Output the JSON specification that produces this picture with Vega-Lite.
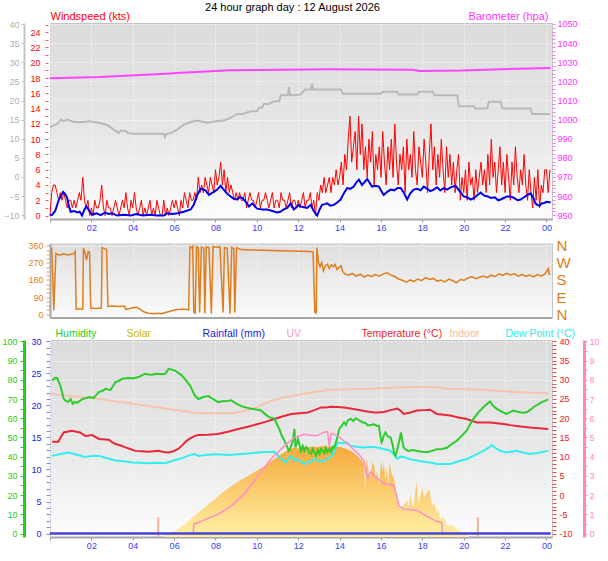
{
  "$schema": "https://vega.github.io/schema/vega-lite/v6.json",
  "background": "#ffffff",
  "padding": {"left": 1, "top": 1, "right": 2, "bottom": 2},
  "title": {"text": "24 hour graph day : 12 August 2026", "font": "Liberation Sans", "fontSize": 11, "fontWeight": "normal", "color": "#000000", "anchor": "middle", "offset": -3, "dx": -8},
  "config": {"font": "Liberation Sans", "axis": {"labelFont": "Liberation Sans", "titleFont": "Liberation Sans", "labelFontSize": 9}, "view": {"stroke": "#c4c4c4"}},
  "spacing": 4.5,
  "resolve": {"scale": {"color": "independent"}, "legend": {"color": "independent"}},
  "datasets": {
    "aux": [{"minute":0,"aux":13.0},{"minute":6,"aux":13.3},{"minute":21,"aux":13.9},{"minute":32,"aux":15.0},{"minute":40,"aux":14.6},{"minute":50,"aux":15.0},{"minute":69,"aux":14.4},{"minute":98,"aux":14.4},{"minute":113,"aux":14.6},{"minute":127,"aux":14.4},{"minute":150,"aux":14.0},{"minute":166,"aux":13.6},{"minute":185,"aux":12.4},{"minute":200,"aux":11.5},{"minute":205,"aux":12.1},{"minute":219,"aux":12.1},{"minute":225,"aux":11.5},{"minute":243,"aux":11.3},{"minute":330,"aux":11.3},{"minute":333,"aux":10.4},{"minute":337,"aux":11.3},{"minute":350,"aux":11.5},{"minute":369,"aux":12.4},{"minute":388,"aux":13.7},{"minute":408,"aux":14.4},{"minute":427,"aux":14.8},{"minute":456,"aux":14.2},{"minute":480,"aux":14.6},{"minute":504,"aux":14.8},{"minute":524,"aux":15.5},{"minute":543,"aux":16.5},{"minute":560,"aux":16.5},{"minute":582,"aux":17.2},{"minute":600,"aux":17.2},{"minute":606,"aux":18.1},{"minute":615,"aux":18.1},{"minute":620,"aux":19.1},{"minute":635,"aux":19.1},{"minute":649,"aux":19.8},{"minute":665,"aux":19.8},{"minute":669,"aux":21.4},{"minute":690,"aux":21.4},{"minute":693,"aux":23.5},{"minute":696,"aux":21.4},{"minute":727,"aux":21.6},{"minute":740,"aux":22.9},{"minute":757,"aux":22.9},{"minute":760,"aux":24.4},{"minute":763,"aux":22.9},{"minute":843,"aux":22.9},{"minute":850,"aux":21.8},{"minute":959,"aux":21.8},{"minute":965,"aux":22.3},{"minute":1007,"aux":22.3},{"minute":1012,"aux":21.6},{"minute":1065,"aux":21.6},{"minute":1070,"aux":22.3},{"minute":1110,"aux":22.3},{"minute":1115,"aux":21.4},{"minute":1181,"aux":21.4},{"minute":1186,"aux":18.5},{"minute":1229,"aux":18.5},{"minute":1234,"aux":17.9},{"minute":1268,"aux":17.9},{"minute":1273,"aux":19.7},{"minute":1307,"aux":19.7},{"minute":1312,"aux":17.9},{"minute":1394,"aux":17.9},{"minute":1399,"aux":16.5},{"minute":1450,"aux":16.5}],
    "pressure": [{"minute":0,"baro":1021.6},{"minute":144,"baro":1022.2},{"minute":234,"baro":1023.1},{"minute":336,"baro":1024.0},{"minute":378,"baro":1024.5},{"minute":438,"baro":1025.0},{"minute":522,"baro":1025.8},{"minute":666,"baro":1026.0},{"minute":810,"baro":1026.3},{"minute":1050,"baro":1026.0},{"minute":1074,"baro":1025.4},{"minute":1194,"baro":1025.6},{"minute":1308,"baro":1026.3},{"minute":1452,"baro":1027.0}],
    "speed": [{"minute":0,"speed":0},{"minute":6,"speed":0.1},{"minute":15,"speed":0.6},{"minute":25,"speed":2.0},{"minute":38,"speed":3.1},{"minute":44,"speed":2.8},{"minute":50,"speed":2.3},{"minute":55,"speed":1.2},{"minute":60,"speed":0.5},{"minute":70,"speed":0.6},{"minute":79,"speed":0.4},{"minute":86,"speed":0.5},{"minute":93,"speed":0.0},{"minute":100,"speed":0.8},{"minute":106,"speed":1.2},{"minute":114,"speed":0.6},{"minute":122,"speed":0.1},{"minute":135,"speed":0.3},{"minute":147,"speed":0.05},{"minute":160,"speed":0.4},{"minute":170,"speed":0.2},{"minute":180,"speed":0.3},{"minute":195,"speed":0},{"minute":215,"speed":0.1},{"minute":235,"speed":0},{"minute":250,"speed":0.2},{"minute":270,"speed":0},{"minute":290,"speed":0.1},{"minute":310,"speed":0},{"minute":330,"speed":0},{"minute":340,"speed":0.3},{"minute":355,"speed":0.2},{"minute":370,"speed":0.3},{"minute":388,"speed":0.5},{"minute":408,"speed":0.8},{"minute":417,"speed":1.4},{"minute":427,"speed":2.7},{"minute":437,"speed":3.5},{"minute":444,"speed":3.4},{"minute":451,"speed":3.3},{"minute":461,"speed":2.7},{"minute":468,"speed":2.9},{"minute":475,"speed":3.1},{"minute":485,"speed":3.4},{"minute":495,"speed":3.9},{"minute":502,"speed":3.5},{"minute":509,"speed":3.1},{"minute":516,"speed":2.8},{"minute":524,"speed":2.5},{"minute":533,"speed":2.2},{"minute":543,"speed":2.1},{"minute":550,"speed":2.4},{"minute":558,"speed":2.3},{"minute":568,"speed":1.8},{"minute":577,"speed":1.2},{"minute":587,"speed":1.6},{"minute":594,"speed":1.2},{"minute":601,"speed":0.9},{"minute":615,"speed":0.8},{"minute":630,"speed":0.8},{"minute":645,"speed":0.6},{"minute":659,"speed":0.4},{"minute":668,"speed":0.5},{"minute":678,"speed":0.8},{"minute":688,"speed":1.0},{"minute":698,"speed":1.6},{"minute":703,"speed":1.2},{"minute":707,"speed":0.8},{"minute":715,"speed":1.1},{"minute":722,"speed":1.4},{"minute":727,"speed":1.2},{"minute":736,"speed":1.1},{"minute":746,"speed":1.0},{"minute":756,"speed":1.4},{"minute":765,"speed":0.6},{"minute":775,"speed":0},{"minute":782,"speed":0.8},{"minute":789,"speed":1.4},{"minute":797,"speed":1.5},{"minute":804,"speed":1.6},{"minute":813,"speed":1.3},{"minute":823,"speed":1.4},{"minute":833,"speed":1.7},{"minute":843,"speed":2.1},{"minute":852,"speed":2.9},{"minute":862,"speed":3.6},{"minute":871,"speed":3.5},{"minute":881,"speed":3.8},{"minute":888,"speed":4.3},{"minute":896,"speed":4.7},{"minute":905,"speed":4.0},{"minute":913,"speed":4.4},{"minute":920,"speed":4.8},{"minute":927,"speed":4.3},{"minute":934,"speed":3.8},{"minute":944,"speed":3.9},{"minute":954,"speed":3.8},{"minute":961,"speed":3.2},{"minute":968,"speed":2.7},{"minute":978,"speed":3.1},{"minute":988,"speed":3.4},{"minute":998,"speed":3.3},{"minute":1008,"speed":3.6},{"minute":1017,"speed":3.6},{"minute":1026,"speed":3.0},{"minute":1036,"speed":2.1},{"minute":1045,"speed":2.9},{"minute":1055,"speed":3.4},{"minute":1065,"speed":3.5},{"minute":1075,"speed":3.3},{"minute":1084,"speed":3.8},{"minute":1094,"speed":3.5},{"minute":1103,"speed":3.2},{"minute":1113,"speed":3.4},{"minute":1123,"speed":3.7},{"minute":1132,"speed":3.3},{"minute":1142,"speed":3.6},{"minute":1152,"speed":3.4},{"minute":1162,"speed":3.7},{"minute":1176,"speed":3.9},{"minute":1188,"speed":3.2},{"minute":1200,"speed":2.5},{"minute":1210,"speed":2.4},{"minute":1220,"speed":2.1},{"minute":1230,"speed":2.3},{"minute":1240,"speed":2.7},{"minute":1249,"speed":3.0},{"minute":1260,"speed":2.6},{"minute":1270,"speed":2.5},{"minute":1278,"speed":2.3},{"minute":1290,"speed":2.4},{"minute":1300,"speed":2.0},{"minute":1307,"speed":2.1},{"minute":1316,"speed":2.3},{"minute":1326,"speed":2.5},{"minute":1336,"speed":2.5},{"minute":1346,"speed":2.3},{"minute":1356,"speed":2.0},{"minute":1365,"speed":2.1},{"minute":1375,"speed":2.4},{"minute":1385,"speed":2.7},{"minute":1394,"speed":2.9},{"minute":1402,"speed":2.3},{"minute":1408,"speed":1.6},{"minute":1413,"speed":1.4},{"minute":1420,"speed":1.3},{"minute":1426,"speed":1.6},{"minute":1432,"speed":1.6},{"minute":1440,"speed":1.8},{"minute":1452,"speed":1.7}],
    "gust": [{"minute":0,"gust":0},{"minute":5,"gust":3},{"minute":10,"gust":4},{"minute":15,"gust":4},{"minute":20,"gust":3},{"minute":25,"gust":2},{"minute":30,"gust":3},{"minute":35,"gust":2},{"minute":40,"gust":3},{"minute":45,"gust":2},{"minute":50,"gust":1},{"minute":55,"gust":2},
      {"minute":60,"gust":2},{"minute":65,"gust":1},{"minute":70,"gust":2},{"minute":75,"gust":1},{"minute":80,"gust":2},{"minute":85,"gust":3},{"minute":90,"gust":2},{"minute":95,"gust":5},{"minute":100,"gust":2},{"minute":105,"gust":1},{"minute":110,"gust":2},{"minute":115,"gust":0},
      {"minute":120,"gust":1},{"minute":125,"gust":0},{"minute":130,"gust":2},{"minute":135,"gust":1},{"minute":140,"gust":1},{"minute":145,"gust":2},{"minute":150,"gust":4},{"minute":155,"gust":1},{"minute":160,"gust":0},{"minute":165,"gust":2},{"minute":170,"gust":1},{"minute":175,"gust":1},
      {"minute":180,"gust":0},{"minute":185,"gust":1},{"minute":190,"gust":2},{"minute":195,"gust":1},{"minute":200,"gust":0},{"minute":205,"gust":1},{"minute":210,"gust":2},{"minute":215,"gust":1},{"minute":220,"gust":3},{"minute":225,"gust":1},{"minute":230,"gust":0},{"minute":235,"gust":2},
      {"minute":240,"gust":1},{"minute":245,"gust":3},{"minute":250,"gust":1},{"minute":255,"gust":0},{"minute":260,"gust":1},{"minute":265,"gust":2},{"minute":270,"gust":0},{"minute":275,"gust":1},{"minute":280,"gust":0},{"minute":285,"gust":1},{"minute":290,"gust":2},{"minute":295,"gust":0},
      {"minute":300,"gust":1},{"minute":305,"gust":0},{"minute":310,"gust":2},{"minute":315,"gust":1},{"minute":320,"gust":0},{"minute":325,"gust":0},{"minute":330,"gust":2},{"minute":335,"gust":0},{"minute":340,"gust":1},{"minute":345,"gust":0},{"minute":350,"gust":1},{"minute":355,"gust":2},
      {"minute":360,"gust":1},{"minute":365,"gust":2},{"minute":370,"gust":1},{"minute":375,"gust":0},{"minute":380,"gust":2},{"minute":385,"gust":1},{"minute":390,"gust":3},{"minute":395,"gust":2},{"minute":400,"gust":1},{"minute":405,"gust":3},{"minute":410,"gust":2},{"minute":415,"gust":2},
      {"minute":420,"gust":3},{"minute":425,"gust":2},{"minute":430,"gust":5},{"minute":435,"gust":3},{"minute":440,"gust":4},{"minute":445,"gust":3},{"minute":450,"gust":5},{"minute":455,"gust":4},{"minute":460,"gust":3},{"minute":465,"gust":5},{"minute":470,"gust":4},{"minute":475,"gust":3},
      {"minute":480,"gust":6},{"minute":485,"gust":4},{"minute":490,"gust":5},{"minute":495,"gust":7},{"minute":500,"gust":4},{"minute":505,"gust":6},{"minute":510,"gust":3},{"minute":515,"gust":5},{"minute":520,"gust":3},{"minute":525,"gust":4},{"minute":530,"gust":3},{"minute":535,"gust":2},
      {"minute":540,"gust":3},{"minute":545,"gust":2},{"minute":550,"gust":3},{"minute":555,"gust":2},{"minute":560,"gust":2},{"minute":565,"gust":3},{"minute":570,"gust":1},{"minute":575,"gust":2},{"minute":580,"gust":3},{"minute":585,"gust":2},{"minute":590,"gust":2},{"minute":595,"gust":1},
      {"minute":600,"gust":2},{"minute":605,"gust":3},{"minute":610,"gust":1},{"minute":615,"gust":2},{"minute":620,"gust":2},{"minute":625,"gust":3},{"minute":630,"gust":2},{"minute":635,"gust":1},{"minute":640,"gust":2},{"minute":645,"gust":3},{"minute":650,"gust":1},{"minute":655,"gust":2},
      {"minute":660,"gust":2},{"minute":665,"gust":1},{"minute":670,"gust":3},{"minute":675,"gust":2},{"minute":680,"gust":2},{"minute":685,"gust":1},{"minute":690,"gust":2},{"minute":695,"gust":3},{"minute":700,"gust":1},{"minute":705,"gust":2},{"minute":710,"gust":2},{"minute":715,"gust":1},
      {"minute":720,"gust":2},{"minute":725,"gust":1},{"minute":730,"gust":2},{"minute":735,"gust":3},{"minute":740,"gust":1},{"minute":745,"gust":2},{"minute":750,"gust":2},{"minute":755,"gust":3},{"minute":760,"gust":1},{"minute":765,"gust":2},{"minute":770,"gust":0},{"minute":775,"gust":3},
      {"minute":780,"gust":2},{"minute":785,"gust":4},{"minute":790,"gust":3},{"minute":795,"gust":5},{"minute":800,"gust":3},{"minute":805,"gust":4},{"minute":810,"gust":5},{"minute":815,"gust":3},{"minute":820,"gust":5},{"minute":825,"gust":4},{"minute":830,"gust":6},{"minute":835,"gust":4},
      {"minute":840,"gust":5},{"minute":845,"gust":7},{"minute":850,"gust":4},{"minute":855,"gust":8},{"minute":860,"gust":6},{"minute":865,"gust":10},{"minute":870,"gust":13},{"minute":875,"gust":7},{"minute":880,"gust":9},{"minute":885,"gust":11},{"minute":890,"gust":6},{"minute":895,"gust":13},
      {"minute":900,"gust":8},{"minute":905,"gust":12},{"minute":910,"gust":6},{"minute":915,"gust":9},{"minute":920,"gust":5},{"minute":925,"gust":10},{"minute":930,"gust":7},{"minute":935,"gust":11},{"minute":940,"gust":4},{"minute":945,"gust":8},{"minute":950,"gust":6},{"minute":955,"gust":9},
      {"minute":960,"gust":5},{"minute":965,"gust":11},{"minute":970,"gust":7},{"minute":975,"gust":4},{"minute":980,"gust":9},{"minute":985,"gust":6},{"minute":990,"gust":10},{"minute":995,"gust":5},{"minute":1000,"gust":12},{"minute":1005,"gust":7},{"minute":1010,"gust":4},{"minute":1015,"gust":8},
      {"minute":1020,"gust":6},{"minute":1025,"gust":9},{"minute":1030,"gust":3},{"minute":1035,"gust":10},{"minute":1040,"gust":6},{"minute":1045,"gust":8},{"minute":1050,"gust":5},{"minute":1055,"gust":11},{"minute":1060,"gust":6},{"minute":1065,"gust":4},{"minute":1070,"gust":9},{"minute":1075,"gust":7},
      {"minute":1080,"gust":5},{"minute":1085,"gust":10},{"minute":1090,"gust":7},{"minute":1095,"gust":3},{"minute":1100,"gust":8},{"minute":1105,"gust":12},{"minute":1110,"gust":6},{"minute":1115,"gust":9},{"minute":1120,"gust":4},{"minute":1125,"gust":8},{"minute":1130,"gust":5},{"minute":1135,"gust":10},
      {"minute":1140,"gust":6},{"minute":1145,"gust":3},{"minute":1150,"gust":9},{"minute":1155,"gust":5},{"minute":1160,"gust":8},{"minute":1165,"gust":4},{"minute":1170,"gust":7},{"minute":1175,"gust":3},{"minute":1180,"gust":6},{"minute":1185,"gust":8},{"minute":1190,"gust":2},{"minute":1195,"gust":5},
      {"minute":1200,"gust":3},{"minute":1205,"gust":6},{"minute":1210,"gust":2},{"minute":1215,"gust":7},{"minute":1220,"gust":4},{"minute":1225,"gust":5},{"minute":1230,"gust":2},{"minute":1235,"gust":6},{"minute":1240,"gust":3},{"minute":1245,"gust":5},{"minute":1250,"gust":7},{"minute":1255,"gust":4},
      {"minute":1260,"gust":6},{"minute":1265,"gust":3},{"minute":1270,"gust":8},{"minute":1275,"gust":4},{"minute":1280,"gust":10},{"minute":1285,"gust":5},{"minute":1290,"gust":7},{"minute":1295,"gust":3},{"minute":1300,"gust":6},{"minute":1305,"gust":9},{"minute":1310,"gust":4},{"minute":1315,"gust":7},
      {"minute":1320,"gust":3},{"minute":1325,"gust":8},{"minute":1330,"gust":5},{"minute":1335,"gust":2},{"minute":1340,"gust":7},{"minute":1345,"gust":4},{"minute":1350,"gust":9},{"minute":1355,"gust":5},{"minute":1360,"gust":3},{"minute":1365,"gust":6},{"minute":1370,"gust":4},{"minute":1375,"gust":8},
      {"minute":1380,"gust":4},{"minute":1385,"gust":2},{"minute":1390,"gust":6},{"minute":1395,"gust":3},{"minute":1400,"gust":1},{"minute":1405,"gust":5},{"minute":1410,"gust":2},{"minute":1415,"gust":6},{"minute":1420,"gust":1},{"minute":1425,"gust":4},{"minute":1430,"gust":3},{"minute":1435,"gust":6},
      {"minute":1440,"gust":6},{"minute":1445,"gust":3},{"minute":1450,"gust":6}],
    "direction": [{"minute":5,"dir":350},{"minute":11,"dir":20},{"minute":17,"dir":320},{"minute":28,"dir":310},{"minute":39,"dir":318},{"minute":50,"dir":312},{"minute":61,"dir":315},{"minute":70,"dir":320},{"minute":73,"dir":330},{"minute":76,"dir":26},{"minute":84,"dir":28},{"minute":95,"dir":26},{"minute":97,"dir":348},{"minute":102,"dir":320},{"minute":106,"dir":285},{"minute":111,"dir":330},{"minute":115,"dir":325},{"minute":118,"dir":32},{"minute":134,"dir":30},{"minute":149,"dir":32},{"minute":151,"dir":350},{"minute":158,"dir":345},{"minute":164,"dir":340},{"minute":168,"dir":40},{"minute":184,"dir":42},{"minute":201,"dir":40},{"minute":216,"dir":42},{"minute":220,"dir":25},{"minute":229,"dir":28},{"minute":240,"dir":34},{"minute":251,"dir":36},{"minute":260,"dir":28},{"minute":272,"dir":12},{"minute":285,"dir":5},{"minute":302,"dir":2},{"minute":313,"dir":5},{"minute":324,"dir":2},{"minute":335,"dir":8},{"minute":346,"dir":14},{"minute":358,"dir":20},{"minute":369,"dir":24},{"minute":380,"dir":26},{"minute":391,"dir":25},{"minute":402,"dir":22},{"minute":406,"dir":355},{"minute":410,"dir":350},{"minute":414,"dir":358},{"minute":417,"dir":10},{"minute":421,"dir":5},{"minute":425,"dir":355},{"minute":430,"dir":350},{"minute":434,"dir":8},{"minute":439,"dir":352},{"minute":446,"dir":348},{"minute":449,"dir":5},{"minute":453,"dir":355},{"minute":461,"dir":350},{"minute":468,"dir":3},{"minute":473,"dir":355},{"minute":482,"dir":352},{"minute":493,"dir":355},{"minute":502,"dir":8},{"minute":506,"dir":350},{"minute":514,"dir":348},{"minute":522,"dir":2},{"minute":527,"dir":352},{"minute":533,"dir":345},{"minute":536,"dir":8},{"minute":541,"dir":350},{"minute":553,"dir":340},{"minute":587,"dir":338},{"minute":643,"dir":335},{"minute":698,"dir":333},{"minute":754,"dir":330},{"minute":763,"dir":328},{"minute":768,"dir":10},{"minute":772,"dir":5},{"minute":774,"dir":350},{"minute":779,"dir":270},{"minute":783,"dir":250},{"minute":788,"dir":272},{"minute":793,"dir":228},{"minute":799,"dir":255},{"minute":805,"dir":263},{"minute":810,"dir":240},{"minute":816,"dir":260},{"minute":821,"dir":250},{"minute":827,"dir":262},{"minute":832,"dir":235},{"minute":838,"dir":245},{"minute":844,"dir":255},{"minute":849,"dir":225},{"minute":855,"dir":212},{"minute":866,"dir":205},{"minute":877,"dir":215},{"minute":888,"dir":200},{"minute":900,"dir":210},{"minute":911,"dir":195},{"minute":922,"dir":205},{"minute":933,"dir":198},{"minute":944,"dir":208},{"minute":955,"dir":200},{"minute":967,"dir":212},{"minute":978,"dir":218},{"minute":989,"dir":205},{"minute":1000,"dir":198},{"minute":1011,"dir":185},{"minute":1022,"dir":178},{"minute":1034,"dir":168},{"minute":1045,"dir":180},{"minute":1056,"dir":172},{"minute":1067,"dir":185},{"minute":1078,"dir":176},{"minute":1089,"dir":192},{"minute":1101,"dir":182},{"minute":1112,"dir":188},{"minute":1123,"dir":174},{"minute":1134,"dir":180},{"minute":1145,"dir":170},{"minute":1157,"dir":184},{"minute":1168,"dir":176},{"minute":1179,"dir":165},{"minute":1190,"dir":182},{"minute":1201,"dir":178},{"minute":1212,"dir":190},{"minute":1224,"dir":196},{"minute":1235,"dir":186},{"minute":1246,"dir":194},{"minute":1257,"dir":200},{"minute":1268,"dir":192},{"minute":1279,"dir":205},{"minute":1291,"dir":198},{"minute":1302,"dir":212},{"minute":1313,"dir":204},{"minute":1324,"dir":215},{"minute":1335,"dir":206},{"minute":1347,"dir":212},{"minute":1358,"dir":200},{"minute":1369,"dir":210},{"minute":1380,"dir":198},{"minute":1391,"dir":206},{"minute":1403,"dir":196},{"minute":1414,"dir":208},{"minute":1425,"dir":200},{"minute":1436,"dir":212},{"minute":1445,"dir":240},{"minute":1449,"dir":205}],
    "humidity": [{"minute":6,"hum":79.6},{"minute":15,"hum":81},{"minute":21,"hum":80.9},{"minute":30,"hum":77},{"minute":40,"hum":70},{"minute":46,"hum":69},{"minute":52,"hum":68.5},{"minute":60,"hum":70},{"minute":66,"hum":67.5},{"minute":72,"hum":68.5},{"minute":78,"hum":68},{"minute":93,"hum":69.8},{"minute":104,"hum":70.5},{"minute":114,"hum":71},{"minute":126,"hum":70.5},{"minute":134,"hum":72},{"minute":141,"hum":73.6},{"minute":150,"hum":74},{"minute":161,"hum":75.3},{"minute":168,"hum":75},{"minute":175,"hum":74.6},{"minute":182,"hum":76.5},{"minute":190,"hum":78.8},{"minute":200,"hum":79.5},{"minute":210,"hum":80.5},{"minute":228,"hum":80.9},{"minute":243,"hum":80.8},{"minute":257,"hum":81.4},{"minute":266,"hum":82.3},{"minute":276,"hum":83.1},{"minute":285,"hum":82.8},{"minute":295,"hum":82.6},{"minute":305,"hum":83},{"minute":314,"hum":83.1},{"minute":324,"hum":82.9},{"minute":334,"hum":83.1},{"minute":340,"hum":84.5},{"minute":344,"hum":85.7},{"minute":354,"hum":85.3},{"minute":363,"hum":84.8},{"minute":372,"hum":83.6},{"minute":382,"hum":82.3},{"minute":394,"hum":79.8},{"minute":406,"hum":77},{"minute":413,"hum":74.5},{"minute":420,"hum":71.8},{"minute":430,"hum":70},{"minute":445,"hum":71},{"minute":459,"hum":71.5},{"minute":473,"hum":70},{"minute":487,"hum":68.4},{"minute":500,"hum":68.8},{"minute":513,"hum":69},{"minute":526,"hum":69.3},{"minute":540,"hum":67.6},{"minute":555,"hum":66.3},{"minute":570,"hum":65.5},{"minute":584,"hum":64.9},{"minute":598,"hum":64.6},{"minute":612,"hum":64},{"minute":625,"hum":62},{"minute":636,"hum":60.5},{"minute":645,"hum":60.2},{"minute":651,"hum":59.7},{"minute":658,"hum":57},{"minute":665,"hum":54.4},{"minute":672,"hum":51},{"minute":680,"hum":48.3},{"minute":686,"hum":46},{"minute":692,"hum":43.1},{"minute":696,"hum":44},{"minute":700,"hum":46},{"minute":704,"hum":48},{"minute":709,"hum":54.4},{"minute":712,"hum":45},{"minute":716,"hum":47},{"minute":719,"hum":49.2},{"minute":724,"hum":46},{"minute":728,"hum":43},{"minute":733,"hum":45.5},{"minute":738,"hum":43},{"minute":743,"hum":45},{"minute":748,"hum":43.9},{"minute":752,"hum":42},{"minute":757,"hum":41.4},{"minute":762,"hum":44},{"minute":767,"hum":42},{"minute":772,"hum":40.5},{"minute":777,"hum":43.5},{"minute":782,"hum":41.5},{"minute":786,"hum":44},{"minute":791,"hum":43},{"minute":796,"hum":41.8},{"minute":800,"hum":44.5},{"minute":805,"hum":42.3},{"minute":810,"hum":44},{"minute":815,"hum":42.5},{"minute":820,"hum":45},{"minute":824,"hum":44.6},{"minute":828,"hum":47},{"minute":832,"hum":49},{"minute":836,"hum":52},{"minute":839,"hum":54.4},{"minute":846,"hum":56},{"minute":853,"hum":57.9},{"minute":858,"hum":56.5},{"minute":864,"hum":59},{"minute":872,"hum":59.7},{"minute":880,"hum":58.5},{"minute":887,"hum":60},{"minute":896,"hum":59},{"minute":906,"hum":57.9},{"minute":915,"hum":57.5},{"minute":922,"hum":56.2},{"minute":930,"hum":56.5},{"minute":940,"hum":56.8},{"minute":948,"hum":56},{"minute":954,"hum":56.1},{"minute":958,"hum":51},{"minute":962,"hum":47.5},{"minute":964,"hum":48.3},{"minute":968,"hum":51},{"minute":973,"hum":52.6},{"minute":980,"hum":50.5},{"minute":988,"hum":50},{"minute":994,"hum":46},{"minute":998,"hum":42},{"minute":1002,"hum":40.5},{"minute":1006,"hum":43},{"minute":1012,"hum":47.5},{"minute":1015,"hum":50},{"minute":1018,"hum":52.6},{"minute":1022,"hum":48},{"minute":1026,"hum":44.6},{"minute":1033,"hum":43.5},{"minute":1040,"hum":43},{"minute":1052,"hum":43.4},{"minute":1065,"hum":43},{"minute":1080,"hum":42.6},{"minute":1094,"hum":42.3},{"minute":1108,"hum":43},{"minute":1122,"hum":43.9},{"minute":1137,"hum":44},{"minute":1151,"hum":44.6},{"minute":1165,"hum":46.5},{"minute":1180,"hum":48.3},{"minute":1195,"hum":51},{"minute":1209,"hum":53.6},{"minute":1219,"hum":57},{"minute":1228,"hum":59.7},{"minute":1236,"hum":61.5},{"minute":1243,"hum":63.1},{"minute":1252,"hum":64.8},{"minute":1262,"hum":66.6},{"minute":1270,"hum":67.8},{"minute":1276,"hum":68.7},{"minute":1281,"hum":67.5},{"minute":1286,"hum":66.3},{"minute":1295,"hum":65},{"minute":1305,"hum":64},{"minute":1314,"hum":63},{"minute":1324,"hum":62.3},{"minute":1333,"hum":63},{"minute":1343,"hum":64},{"minute":1353,"hum":63.5},{"minute":1363,"hum":63.1},{"minute":1372,"hum":62.8},{"minute":1382,"hum":63.1},{"minute":1392,"hum":64.2},{"minute":1402,"hum":65.7},{"minute":1414,"hum":67},{"minute":1426,"hum":68.4},{"minute":1436,"hum":69},{"minute":1445,"hum":69.8}],
    "temperature": [{"minute":6,"temp":13.9},{"minute":24,"temp":13.9},{"minute":32,"temp":15.2},{"minute":40,"temp":16.3},{"minute":63,"temp":16.7},{"minute":87,"temp":16.3},{"minute":102,"temp":15.4},{"minute":112,"temp":15.5},{"minute":122,"temp":15.6},{"minute":142,"temp":14.6},{"minute":171,"temp":14.4},{"minute":180,"temp":13.8},{"minute":190,"temp":13.3},{"minute":205,"temp":12.9},{"minute":219,"temp":12.4},{"minute":233,"temp":12.0},{"minute":247,"temp":11.5},{"minute":266,"temp":11.4},{"minute":286,"temp":11.3},{"minute":300,"temp":11.4},{"minute":314,"temp":11.5},{"minute":330,"temp":11.2},{"minute":344,"temp":11.1},{"minute":358,"temp":11.4},{"minute":372,"temp":12.0},{"minute":384,"temp":13.0},{"minute":396,"temp":14.1},{"minute":408,"temp":14.8},{"minute":420,"temp":15.4},{"minute":430,"temp":15.6},{"minute":458,"temp":15.7},{"minute":487,"temp":15.9},{"minute":516,"temp":16.5},{"minute":546,"temp":17.2},{"minute":574,"temp":17.8},{"minute":603,"temp":18.5},{"minute":627,"temp":19.1},{"minute":651,"temp":19.8},{"minute":676,"temp":20.5},{"minute":700,"temp":21.1},{"minute":724,"temp":21.3},{"minute":748,"temp":21.5},{"minute":767,"temp":22.1},{"minute":786,"temp":22.8},{"minute":800,"temp":22.8},{"minute":815,"temp":23},{"minute":834,"temp":22.9},{"minute":853,"temp":22.8},{"minute":872,"temp":22.5},{"minute":892,"temp":22.2},{"minute":916,"temp":21.8},{"minute":940,"temp":21.5},{"minute":954,"temp":21.5},{"minute":968,"temp":21.6},{"minute":988,"temp":22.1},{"minute":1007,"temp":22.5},{"minute":1016,"temp":22.0},{"minute":1026,"temp":21.1},{"minute":1045,"temp":21.5},{"minute":1064,"temp":22},{"minute":1084,"temp":22.1},{"minute":1103,"temp":22.2},{"minute":1113,"temp":21.6},{"minute":1122,"temp":21.1},{"minute":1142,"temp":20.9},{"minute":1161,"temp":20.7},{"minute":1185,"temp":20.2},{"minute":1209,"temp":19.8},{"minute":1224,"temp":19.3},{"minute":1238,"temp":18.9},{"minute":1257,"temp":18.9},{"minute":1276,"temp":18.9},{"minute":1295,"temp":18.7},{"minute":1315,"temp":18.5},{"minute":1334,"temp":18.2},{"minute":1353,"temp":18.0},{"minute":1372,"temp":17.8},{"minute":1392,"temp":17.6},{"minute":1418,"temp":17.4},{"minute":1445,"temp":17.2}],
    "indoor": [{"minute":6,"indoor":26.3},{"minute":142,"indoor":25.0},{"minute":286,"indoor":23.2},{"minute":430,"indoor":21.3},{"minute":526,"indoor":21.3},{"minute":555,"indoor":21.7},{"minute":584,"indoor":22.4},{"minute":613,"indoor":23.4},{"minute":642,"indoor":24.5},{"minute":670,"indoor":25.2},{"minute":700,"indoor":25.8},{"minute":757,"indoor":26.7},{"minute":815,"indoor":27.4},{"minute":863,"indoor":27.5},{"minute":911,"indoor":27.6},{"minute":959,"indoor":27.8},{"minute":1007,"indoor":28.0},{"minute":1060,"indoor":28.1},{"minute":1112,"indoor":28.1},{"minute":1161,"indoor":27.6},{"minute":1209,"indoor":27.5},{"minute":1257,"indoor":27.4},{"minute":1305,"indoor":27.1},{"minute":1353,"indoor":26.8},{"minute":1400,"indoor":26.6},{"minute":1445,"indoor":26.5}],
    "dewpoint": [{"minute":6,"dew":10.2},{"minute":30,"dew":10.7},{"minute":54,"dew":11.1},{"minute":78,"dew":10.5},{"minute":102,"dew":9.9},{"minute":122,"dew":10.2},{"minute":142,"dew":10.2},{"minute":166,"dew":9.6},{"minute":190,"dew":9.0},{"minute":214,"dew":8.8},{"minute":238,"dew":8.5},{"minute":262,"dew":8.4},{"minute":286,"dew":8.3},{"minute":310,"dew":8.4},{"minute":334,"dew":8.3},{"minute":358,"dew":9.0},{"minute":374,"dew":9.4},{"minute":390,"dew":9.8},{"minute":405,"dew":10.4},{"minute":420,"dew":10.7},{"minute":430,"dew":10.2},{"minute":458,"dew":10.5},{"minute":487,"dew":10.6},{"minute":516,"dew":10.4},{"minute":546,"dew":10.6},{"minute":575,"dew":10.8},{"minute":603,"dew":11.1},{"minute":627,"dew":11.2},{"minute":651,"dew":11.3},{"minute":660,"dew":10.5},{"minute":668,"dew":9.5},{"minute":676,"dew":9.0},{"minute":684,"dew":8.5},{"minute":692,"dew":9.6},{"minute":700,"dew":10.2},{"minute":710,"dew":9.0},{"minute":719,"dew":9.4},{"minute":728,"dew":8.6},{"minute":738,"dew":8.1},{"minute":748,"dew":8.8},{"minute":757,"dew":8.5},{"minute":766,"dew":9.4},{"minute":776,"dew":9.0},{"minute":790,"dew":8.8},{"minute":805,"dew":9.4},{"minute":815,"dew":10.0},{"minute":824,"dew":11.1},{"minute":830,"dew":12.8},{"minute":834,"dew":13.7},{"minute":847,"dew":13.5},{"minute":860,"dew":13.7},{"minute":872,"dew":12.8},{"minute":891,"dew":12.6},{"minute":911,"dew":12.4},{"minute":930,"dew":12.6},{"minute":949,"dew":12.4},{"minute":968,"dew":12.0},{"minute":988,"dew":11.5},{"minute":998,"dew":10.5},{"minute":1007,"dew":9.4},{"minute":1016,"dew":10.0},{"minute":1026,"dew":9.9},{"minute":1045,"dew":9.3},{"minute":1064,"dew":9.0},{"minute":1084,"dew":8.7},{"minute":1103,"dew":8.5},{"minute":1122,"dew":8.1},{"minute":1142,"dew":8.1},{"minute":1161,"dew":8.1},{"minute":1185,"dew":8.8},{"minute":1209,"dew":9.4},{"minute":1233,"dew":10.4},{"minute":1257,"dew":11.5},{"minute":1270,"dew":12.2},{"minute":1281,"dew":13},{"minute":1290,"dew":12.4},{"minute":1296,"dew":12},{"minute":1310,"dew":11.4},{"minute":1324,"dew":11.1},{"minute":1338,"dew":11.3},{"minute":1353,"dew":11.5},{"minute":1372,"dew":11.1},{"minute":1392,"dew":10.7},{"minute":1418,"dew":11.0},{"minute":1445,"dew":11.5}],
    "uv": [{"minute":0,"uv":0},{"minute":415,"uv":0},{"minute":418,"uv":0.5},{"minute":430,"uv":0.57},{"minute":460,"uv":0.8},{"minute":487,"uv":1.0},{"minute":526,"uv":1.44},{"minute":565,"uv":2.1},{"minute":603,"uv":3.0},{"minute":642,"uv":3.9},{"minute":680,"uv":4.56},{"minute":709,"uv":5.0},{"minute":738,"uv":5.17},{"minute":760,"uv":5.1},{"minute":776,"uv":5.1},{"minute":790,"uv":5.25},{"minute":805,"uv":5.3},{"minute":810,"uv":4.56},{"minute":815,"uv":5.2},{"minute":824,"uv":5.17},{"minute":840,"uv":5.0},{"minute":853,"uv":4.8},{"minute":868,"uv":4.6},{"minute":882,"uv":4.35},{"minute":897,"uv":4.1},{"minute":911,"uv":3.78},{"minute":916,"uv":3.2},{"minute":922,"uv":2.9},{"minute":930,"uv":3.2},{"minute":940,"uv":3.0},{"minute":954,"uv":2.8},{"minute":968,"uv":2.6},{"minute":983,"uv":2.55},{"minute":997,"uv":2.5},{"minute":1005,"uv":2.0},{"minute":1012,"uv":1.44},{"minute":1026,"uv":1.27},{"minute":1045,"uv":1.25},{"minute":1065,"uv":1.2},{"minute":1084,"uv":1.0},{"minute":1103,"uv":0.8},{"minute":1120,"uv":0.65},{"minute":1136,"uv":0.57},{"minute":1138,"uv":0},{"minute":1452,"uv":0}],
    "solar": [{"minute":0,"solar":0},{"minute":330,"solar":0},{"minute":336,"solar":14},{"minute":363,"solar":30},{"minute":390,"solar":65},{"minute":430,"solar":124},{"minute":455,"solar":160},{"minute":478,"solar":192},{"minute":500,"solar":225},{"minute":526,"solar":259},{"minute":550,"solar":285},{"minute":574,"solar":310},{"minute":598,"solar":335},{"minute":622,"solar":361},{"minute":646,"solar":390},{"minute":670,"solar":420},{"minute":690,"solar":440},{"minute":709,"solar":455},{"minute":720,"solar":448},{"minute":730,"solar":458},{"minute":748,"solar":455},{"minute":760,"solar":460},{"minute":776,"solar":455},{"minute":790,"solar":462},{"minute":805,"solar":458},{"minute":815,"solar":463},{"minute":830,"solar":460},{"minute":844,"solar":455},{"minute":858,"solar":448},{"minute":872,"solar":438},{"minute":886,"solar":420},{"minute":901,"solar":395},{"minute":911,"solar":370},{"minute":914,"solar":226},{"minute":918,"solar":400},{"minute":924,"solar":330},{"minute":930,"solar":303},{"minute":935,"solar":380},{"minute":940,"solar":360},{"minute":945,"solar":300},{"minute":949,"solar":337},{"minute":955,"solar":260},{"minute":960,"solar":390},{"minute":965,"solar":330},{"minute":968,"solar":380},{"minute":973,"solar":290},{"minute":977,"solar":353},{"minute":981,"solar":250},{"minute":985,"solar":380},{"minute":991,"solar":320},{"minute":997,"solar":303},{"minute":1002,"solar":250},{"minute":1007,"solar":192},{"minute":1012,"solar":160},{"minute":1016,"solar":141},{"minute":1026,"solar":165},{"minute":1036,"solar":184},{"minute":1040,"solar":150},{"minute":1045,"solar":218},{"minute":1050,"solar":170},{"minute":1055,"solar":150},{"minute":1060,"solar":240},{"minute":1064,"solar":277},{"minute":1067,"solar":200},{"minute":1070,"solar":175},{"minute":1075,"solar":215},{"minute":1080,"solar":250},{"minute":1085,"solar":200},{"minute":1093,"solar":226},{"minute":1100,"solar":243},{"minute":1104,"solar":200},{"minute":1108,"solar":160},{"minute":1113,"solar":175},{"minute":1117,"solar":158},{"minute":1122,"solar":120},{"minute":1127,"solar":141},{"minute":1132,"solar":90},{"minute":1140,"solar":100},{"minute":1146,"solar":90},{"minute":1151,"solar":56},{"minute":1160,"solar":60},{"minute":1170,"solar":56},{"minute":1180,"solar":40},{"minute":1190,"solar":30},{"minute":1198,"solar":20},{"minute":1204,"solar":14},{"minute":1212,"solar":4},{"minute":1216,"solar":0},{"minute":1452,"solar":0}],
    "rain": [{"minute":0,"rain":0},{"minute":360,"rain":0},{"minute":720,"rain":0},{"minute":1080,"rain":0},{"minute":1452,"rain":0}],
    "sun": [{"event":"sunrise","minute":314},{"event":"sunset","minute":1241}]
  },
  "vconcat": [
    {
      "width": 502,
      "height": 196,
      "view": {"fill": {"gradient": "linear", "x1": 0, "y1": 0, "x2": 0, "y2": 1, "stops": [{"offset": 0, "color": "#dcdcdc"}, {"offset": 0.55, "color": "#e6e6e6"}, {"offset": 1, "color": "#fdfdfd"}]}, "stroke": "#c4c4c4"},
      "resolve": {"scale": {"y": "independent"}, "axis": {"y": "independent"}},
      "layer": [
        {
          "data": {"name": "aux"},
          "mark": {"type": "line", "color": "#b9b9b9", "strokeWidth": 2},
          "encoding": {
            "x": {"field": "minute", "type": "quantitative", "scale": {"domain": [0, 1456], "nice": false, "zero": false},
              "axis": {"title": null, "values": [0,60,120,180,240,300,360,420,480,540,600,660,720,780,840,900,960,1020,1080,1140,1200,1260,1320,1380,1440], "labelExpr": "datum.value % 120 === 0 && datum.value > 0 ? (floor(datum.value / 60) % 24 < 10 ? '0' : '') + (floor(datum.value / 60) % 24) : ''", "labelColor": "#3a3af2", "labelFontSize": 9, "labelPadding": 1, "labelOverlap": false, "labelFlush": false, "tickSize": 3, "tickColor": "#9a9a9a", "domainColor": "#a6a6a6", "domainWidth": 2, "grid": true, "gridColor": "#f4f4f4", "gridDash": [2, 2], "gridOpacity": {"condition": {"test": "datum.value % 120 === 0", "value": 1}, "value": 0}}},
            "y": {"field": "aux", "type": "quantitative", "scale": {"domain": [-11, 40.3], "nice": false, "zero": false},
              "axis": {"orient": "left", "offset": 26, "title": null, "values": [-10,-5,0,5,10,15,20,25,30,35,40], "format": "d", "labelColor": "#b0b0b0", "labelFontSize": 9, "labelPadding": 2, "labelFlush": false, "tickColor": "#c4c4c4", "tickSize": 3, "domainColor": "#c4c4c4", "domainWidth": 2, "grid": false}}
          }
        },
        {
          "data": {"name": "pressure"},
          "mark": {"type": "line", "color": "#ff44ff", "strokeWidth": 2},
          "encoding": {
            "x": {"field": "minute", "type": "quantitative", "scale": {"domain": [0, 1456], "nice": false, "zero": false}},
            "y": {"field": "baro", "type": "quantitative", "scale": {"domain": [948, 1050.5], "nice": false, "zero": false},
              "axis": {"orient": "right", "offset": 0, "values": [950,952,954,956,958,960,962,964,966,968,970,972,974,976,978,980,982,984,986,988,990,992,994,996,998,1000,1002,1004,1006,1008,1010,1012,1014,1016,1018,1020,1022,1024,1026,1028,1030,1032,1034,1036,1038,1040,1042,1044,1046,1048,1050], "format": "d", "labelExpr": "datum.value % 10 === 0 ? datum.label : ''", "labelColor": "#ff33ff", "labelFontSize": 9, "labelPadding": 2, "labelFlush": false, "labelOverlap": false, "tickColor": "#ff77ff", "tickSize": 3, "domain": false, "grid": true, "gridColor": "#f4f4f4", "gridDash": [2, 2], "gridOpacity": {"condition": {"test": "datum.value % 10 === 0", "value": 1}, "value": 0}, "title": "Barometer (hpa)", "titleColor": "#ff33ff", "titleFontSize": 11, "titleFontWeight": "normal", "titleAngle": 0, "titleAlign": "right", "titleBaseline": "alphabetic", "titleX": -4, "titleY": -4}}
          }
        },
        {
          "data": {"name": "gust"},
          "mark": {"type": "line", "color": "#ff0000", "strokeWidth": 1},
          "encoding": {
            "x": {"field": "minute", "type": "quantitative", "scale": {"domain": [0, 1456], "nice": false, "zero": false}},
            "y": {"field": "gust", "type": "quantitative", "scale": {"domain": [-0.45, 25.2], "nice": false, "zero": false},
              "axis": {"orient": "left", "offset": 2, "values": [0,1,2,3,4,5,6,7,8,9,10,11,12,13,14,15,16,17,18,19,20,21,22,23,24,25], "labelExpr": "datum.value % 2 === 0 ? datum.label : ''", "labelColor": "#ff0000", "labelFontSize": 9, "labelPadding": 5, "labelFlush": false, "labelOverlap": false, "tickColor": "#ff5a5a", "tickSize": 3, "domain": false, "grid": false, "title": "Windspeed (kts)", "titleColor": "#ff0000", "titleFontSize": 11, "titleFontWeight": "normal", "titleAngle": 0, "titleAlign": "left", "titleBaseline": "alphabetic", "titleX": 2, "titleY": -4}}
          }
        },
        {
          "data": {"name": "speed"},
          "mark": {"type": "line", "color": "#0000ee", "strokeWidth": 2},
          "encoding": {
            "x": {"field": "minute", "type": "quantitative", "scale": {"domain": [0, 1456], "nice": false, "zero": false}},
            "y": {"field": "speed", "type": "quantitative", "scale": {"domain": [-0.45, 25.2], "nice": false, "zero": false}, "axis": null}
          }
        }
      ]
    },
    {
      "width": 502,
      "height": 74,
      "view": {"fill": {"gradient": "linear", "x1": 0, "y1": 0, "x2": 0, "y2": 1, "stops": [{"offset": 0, "color": "#dedede"}, {"offset": 1, "color": "#fbfbfb"}]}, "stroke": "#c4c4c4"},
      "resolve": {"scale": {"y": "independent"}, "axis": {"y": "independent"}},
      "layer": [
        {
          "data": {"name": "direction"},
          "mark": {"type": "line", "color": "#e07d1c", "strokeWidth": 1.5},
          "encoding": {
            "x": {"field": "minute", "type": "quantitative", "scale": {"domain": [0, 1456], "nice": false, "zero": false},
              "axis": {"title": null, "values": [0,60,120,180,240,300,360,420,480,540,600,660,720,780,840,900,960,1020,1080,1140,1200,1260,1320,1380,1440], "labels": false, "ticks": false, "domainColor": "#a6a6a6", "domainWidth": 2, "grid": true, "gridColor": "#f4f4f4", "gridDash": [2, 2], "gridOpacity": {"condition": {"test": "datum.value % 120 === 0", "value": 1}, "value": 0}}},
            "y": {"field": "dir", "type": "quantitative", "scale": {"domain": [-18, 372], "nice": false, "zero": false},
              "axis": {"orient": "left", "offset": 0, "title": null, "values": [0,22.5,45,67.5,90,112.5,135,157.5,180,202.5,225,247.5,270,292.5,315,337.5,360], "labelExpr": "datum.value % 90 === 0 ? datum.value + '' : ''", "labelColor": "#e07d1c", "labelFontSize": 9, "labelPadding": 3, "labelFlush": false, "labelOverlap": false, "tickColor": "#eba060", "tickSize": 4, "domainColor": "#a6a6a6", "domainWidth": 2, "grid": true, "gridColor": "#f4f4f4", "gridDash": [2, 2], "gridOpacity": {"condition": {"test": "datum.value % 90 === 0", "value": 1}, "value": 0}}}
          }
        },
        {
          "data": {"name": "direction"},
          "mark": {"type": "line", "opacity": 0},
          "encoding": {
            "x": {"field": "minute", "type": "quantitative", "scale": {"domain": [0, 1456], "nice": false, "zero": false}},
            "y": {"field": "dir", "type": "quantitative", "scale": {"domain": [-18, 372], "nice": false, "zero": false},
              "axis": {"orient": "right", "title": null, "values": [0, 90, 180, 270, 360], "labelExpr": "datum.value === 90 ? 'E' : datum.value === 180 ? 'S' : datum.value === 270 ? 'W' : 'N'", "labelColor": "#e07d1c", "labelFontSize": 15, "labelPadding": 4, "labelFlush": false, "labelOverlap": false, "ticks": false, "domain": false, "grid": false}}
          }
        }
      ]
    },
    {
      "width": 502,
      "height": 197,
      "view": {"fill": {"gradient": "linear", "x1": 0, "y1": 0, "x2": 0, "y2": 1, "stops": [{"offset": 0, "color": "#dcdcdc"}, {"offset": 0.55, "color": "#e8e8e8"}, {"offset": 1, "color": "#fdfdfd"}]}, "stroke": "#c4c4c4"},
      "resolve": {"scale": {"y": "independent"}, "axis": {"y": "independent"}},
      "layer": [
        {
          "data": {"name": "solar"},
          "mark": {"type": "area", "color": {"gradient": "linear", "x1": 0, "y1": 0, "x2": 0, "y2": 1, "stops": [{"offset": 0, "color": "#f6a93c"}, {"offset": 1, "color": "#fff1a6"}]}},
          "encoding": {
            "x": {"field": "minute", "type": "quantitative", "scale": {"domain": [0, 1456], "nice": false, "zero": false},
              "axis": {"title": null, "values": [0,60,120,180,240,300,360,420,480,540,600,660,720,780,840,900,960,1020,1080,1140,1200,1260,1320,1380,1440], "labelExpr": "datum.value % 120 === 0 && datum.value > 0 ? (floor(datum.value / 60) % 24 < 10 ? '0' : '') + (floor(datum.value / 60) % 24) : ''", "labelColor": "#3a3af2", "labelFontSize": 9, "labelPadding": 1, "labelOverlap": false, "labelFlush": false, "tickSize": 3, "tickColor": "#9a9a9a", "domainColor": "#a6a6a6", "domainWidth": 2, "grid": true, "gridColor": "#f4f4f4", "gridDash": [2, 2], "gridOpacity": {"condition": {"test": "datum.value % 120 === 0", "value": 1}, "value": 0}}},
            "y": {"field": "solar", "type": "quantitative", "scale": {"domain": [0, 1000], "nice": false}, "axis": null}
          }
        },
        {
          "data": {"name": "sun"},
          "mark": {"type": "rule", "color": "#f2b496", "strokeWidth": 2},
          "encoding": {
            "x": {"field": "minute", "type": "quantitative", "scale": {"domain": [0, 1456], "nice": false, "zero": false}},
            "y": {"datum": -1.8, "type": "quantitative", "scale": {"domain": [-1.8, 100.7], "nice": false, "zero": false}, "axis": null},
            "y2": {"datum": 8.4}
          }
        },
        {
          "data": {"name": "indoor"},
          "mark": {"type": "line", "strokeWidth": 2},
          "encoding": {
            "x": {"field": "minute", "type": "quantitative", "scale": {"domain": [0, 1456], "nice": false, "zero": false}},
            "y": {"field": "indoor", "type": "quantitative", "scale": {"domain": [-10.9, 40.34], "nice": false, "zero": false}, "axis": null},
            "color": {"datum": "Indoor", "type": "nominal",
              "scale": {"domain": ["Humidity", "Solar", "Rainfall (mm)", "UV", "Temperature (°C)", "Indoor", "Dew Point (°C)"], "range": ["#2ccc2c", "#f6a93c", "#4646d8", "#ff8cc6", "#e8283a", "#f6c4ab", "#33eeee"]},
              "legend": {"orient": "top", "direction": "horizontal", "title": null, "symbolSize": 0, "symbolStrokeWidth": 0, "symbolOpacity": 0, "labelFont": "Liberation Sans", "labelFontSize": 10.5, "labelOffset": -5, "columnPadding": 1, "offset": 0, "padding": 0, "labelLimit": 300,
                "encode": {"labels": {"update": {
                  "dx": {"signal": "datum.value === 'Solar' ? 23 : datum.value === 'Rainfall (mm)' ? 44 : datum.value === 'UV' ? 15 : datum.value === 'Temperature (°C)' ? 53 : datum.value === 'Dew Point (°C)' ? 19 : 0"},
                  "fill": {"signal": "datum.value === 'Humidity' ? '#22cc22' : datum.value === 'Solar' ? '#cdbb00' : datum.value === 'Rainfall (mm)' ? '#2020e0' : datum.value === 'UV' ? '#ff99cc' : datum.value === 'Temperature (°C)' ? '#ee1c1c' : datum.value === 'Indoor' ? '#f5b89e' : '#22eeee'"}}}}}}
          }
        },
        {
          "data": {"name": "dewpoint"},
          "mark": {"type": "line", "strokeWidth": 2},
          "encoding": {
            "x": {"field": "minute", "type": "quantitative", "scale": {"domain": [0, 1456], "nice": false, "zero": false}},
            "y": {"field": "dew", "type": "quantitative", "scale": {"domain": [-10.9, 40.34], "nice": false, "zero": false}, "axis": null},
            "color": {"datum": "Dew Point (°C)", "type": "nominal"}
          }
        },
        {
          "data": {"name": "temperature"},
          "mark": {"type": "line", "strokeWidth": 2},
          "encoding": {
            "x": {"field": "minute", "type": "quantitative", "scale": {"domain": [0, 1456], "nice": false, "zero": false}},
            "y": {"field": "temp", "type": "quantitative", "scale": {"domain": [-10.9, 40.34], "nice": false, "zero": false},
              "axis": {"orient": "right", "offset": 0, "title": null, "values": [-10,-9,-8,-7,-6,-5,-4,-3,-2,-1,0,1,2,3,4,5,6,7,8,9,10,11,12,13,14,15,16,17,18,19,20,21,22,23,24,25,26,27,28,29,30,31,32,33,34,35,36,37,38,39,40], "labelExpr": "datum.value % 5 === 0 ? datum.value + '' : ''", "labelColor": "#ee2020", "labelFontSize": 9, "labelPadding": 3, "labelFlush": false, "labelOverlap": false, "tickColor": "#ee4c4c", "tickSize": 4, "domain": false, "grid": true, "gridColor": "#f4f4f4", "gridDash": [2, 2], "gridOpacity": {"condition": {"test": "datum.value % 5 === 0", "value": 1}, "value": 0}}},
            "color": {"datum": "Temperature (°C)", "type": "nominal"}
          }
        },
        {
          "data": {"name": "humidity"},
          "mark": {"type": "line", "strokeWidth": 2},
          "encoding": {
            "x": {"field": "minute", "type": "quantitative", "scale": {"domain": [0, 1456], "nice": false, "zero": false}},
            "y": {"field": "hum", "type": "quantitative", "scale": {"domain": [-1.8, 100.7], "nice": false, "zero": false},
              "axis": {"orient": "left", "offset": 26, "title": null, "values": [0,5,10,15,20,25,30,35,40,45,50,55,60,65,70,75,80,85,90,95,100], "labelExpr": "datum.value % 10 === 0 ? datum.value + '' : ''", "labelColor": "#22cc22", "labelFontSize": 9, "labelPadding": 3, "labelFlush": false, "labelOverlap": false, "tickColor": "#22cc22", "tickSize": 4, "domainColor": "#22cc22", "domainWidth": 3, "grid": false}},
            "color": {"datum": "Humidity", "type": "nominal"}
          }
        },
        {
          "data": {"name": "uv"},
          "mark": {"type": "line", "strokeWidth": 1.5},
          "encoding": {
            "x": {"field": "minute", "type": "quantitative", "scale": {"domain": [0, 1456], "nice": false, "zero": false}},
            "y": {"field": "uv", "type": "quantitative", "scale": {"domain": [-0.18, 10.07], "nice": false, "zero": false},
              "axis": {"orient": "right", "offset": 32, "title": null, "values": [0,0.5,1,1.5,2,2.5,3,3.5,4,4.5,5,5.5,6,6.5,7,7.5,8,8.5,9,9.5,10], "labelExpr": "datum.value % 1 === 0 ? datum.value + '' : ''", "labelColor": "#ff88bb", "labelFontSize": 9, "labelPadding": 2, "labelFlush": false, "labelOverlap": false, "tickColor": "#ff88bb", "tickSize": 3, "domainColor": "#ff88bb", "domainWidth": 3, "grid": false}},
            "color": {"datum": "UV", "type": "nominal"}
          }
        },
        {
          "data": {"name": "rain"},
          "mark": {"type": "line", "strokeWidth": 2.5},
          "encoding": {
            "x": {"field": "minute", "type": "quantitative", "scale": {"domain": [0, 1456], "nice": false, "zero": false}},
            "y": {"field": "rain", "type": "quantitative", "scale": {"domain": [-0.53, 30.2], "nice": false, "zero": false},
              "axis": {"orient": "left", "offset": 0, "title": null, "values": [0,1,2,3,4,5,6,7,8,9,10,11,12,13,14,15,16,17,18,19,20,21,22,23,24,25,26,27,28,29,30], "labelExpr": "datum.value % 5 === 0 ? datum.value + '' : ''", "labelColor": "#2020e0", "labelFontSize": 9, "labelPadding": 5, "labelFlush": false, "labelOverlap": false, "tickColor": "#8484ee", "tickSize": 4, "domain": false, "grid": false}},
            "color": {"datum": "Rainfall (mm)", "type": "nominal"}
          }
        }
      ]
    }
  ]
}
